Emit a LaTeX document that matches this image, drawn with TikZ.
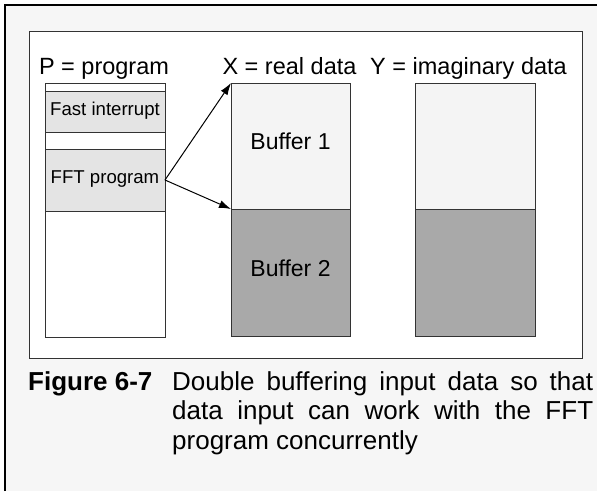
\documentclass[tikz,border=0pt]{standalone}
\usepackage{fontspec}
\setmainfont{Liberation Sans}
\usetikzlibrary{arrows.meta}
\definecolor{bg}{HTML}{F6F6F6}
\definecolor{lightbox}{HTML}{E4E4E4}
\definecolor{bufA}{HTML}{F4F4F4}
\definecolor{bufB}{HTML}{A9A9A9}
\definecolor{edge}{HTML}{333333}
\begin{document}
\begin{tikzpicture}[x=1pt,y=-1pt,
  box/.style={draw=edge,line width=1pt,inner sep=0pt,outer sep=0pt,anchor=north west},
  small/.style={font=\fontsize{18.6}{22}\selectfont,text height=0.72em,text depth=0pt},
  big/.style={font=\fontsize{23}{27}\selectfont,text height=0.72em,text depth=0pt},
  head/.style={font=\fontsize{23.5}{28}\selectfont,anchor=base,inner sep=0pt},
  arr/.style={-{Latex[length=12pt,width=8pt]},line width=1pt}]
\useasboundingbox (0,0) rectangle (597,491);
\fill[bg] (4,4) rectangle (597,491);
\draw[line width=2pt] (4.5,491) -- (4.5,4.5) -- (597,4.5);
% inner frame
\node[box,fill=white,minimum width=553pt,minimum height=327pt] (frame) at (29,31) {};
% headings
\node[head] (hp) at (104,74) {P = program};
\node[head] (hx) at (289.5,74) {X = real data};
\node[head] (hy) at (468.5,74) {Y = imaginary data};
% program memory
\node[box,fill=white,minimum width=120pt,minimum height=254pt] (pmem) at (45,83) {};
\node[box,fill=lightbox,minimum width=120pt,minimum height=41pt,small] (fast) at (45,91) {Fast interrupt};
\node[box,fill=lightbox,minimum width=120pt,minimum height=62pt,small] (fft) at (45,149) {FFT program};
% X memory
\node[box,fill=bufA,minimum width=119pt,minimum height=126pt,big] (xb1) at (231,83) {Buffer 1};
\node[box,fill=bufB,minimum width=119pt,minimum height=127pt,big] (xb2) at (231,209) {Buffer 2};
% Y memory
\node[box,fill=bufA,minimum width=120pt,minimum height=126pt] (yb1) at (415,83) {};
\node[box,fill=bufB,minimum width=120pt,minimum height=127pt] (yb2) at (415,209) {};
% arrows
\draw[arr] (fft.east) -- (xb1.north west);
\draw[arr] (fft.east) -- (xb1.south west);
% caption
\node[anchor=base west,inner sep=0pt,font=\fontsize{26}{30}\selectfont\bfseries] (figlab) at (28,390) {Figure 6-7};
\node[anchor=base west,inner sep=0pt,text width=421pt,align=justify,
  font=\fontsize{26}{29.5}\selectfont] (cap) at (172,390)
  {\tolerance=10000\hyphenpenalty=10000\exhyphenpenalty=10000 Double buffering input data so that data input can work with the FFT program concurrently\par};
\end{tikzpicture}
\end{document}
